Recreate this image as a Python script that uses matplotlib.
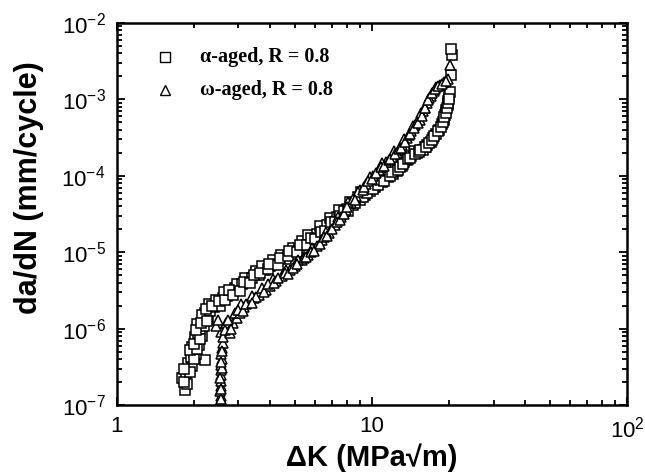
"""Fatigue crack growth rate vs stress intensity range, alpha- and omega-aged."""
import matplotlib as mpl
import matplotlib.pyplot as plt
from matplotlib.ticker import LogLocator, NullFormatter

mpl.rcParams.update({
    "font.family": "Liberation Sans", "mathtext.fontset": "custom",
    "mathtext.rm": "Liberation Sans", "mathtext.bf": "Liberation Sans:bold",
})

# alpha-aged, R = 0.8 (squares)
dk_alpha = [
    1.86, 1.88, 1.80, 1.87, 1.92, 1.90, 1.97, 2.22, 1.95, 2.00,
    2.05, 1.98, 2.03, 2.10, 2.02, 2.08, 2.15, 2.12, 2.06, 2.20,
    2.18, 2.21, 2.27, 2.16, 2.33, 2.40, 2.30, 2.48, 2.55, 2.44,
    2.60, 2.70, 2.63, 2.90, 2.82, 3.00, 2.95, 3.10, 3.25, 3.18,
    3.40, 3.53, 3.60, 3.50, 3.80, 3.72, 4.00, 4.20, 4.10, 4.47,
    4.60, 4.40, 4.80, 5.00, 4.90, 5.20, 5.45, 5.30, 5.70, 5.90,
    5.60, 6.10, 6.40, 6.25, 6.70, 7.00, 6.85, 7.30, 7.60, 7.45,
    8.00, 8.40, 8.20, 8.97, 9.40, 9.10, 9.80, 10.3, 10.0, 11.0,
    11.6, 11.3, 12.1, 12.5, 12.3, 13.1, 13.7, 13.4, 14.3, 15.0,
    14.6, 15.8, 16.5, 16.1, 17.0, 17.4, 17.9, 18.4, 18.8, 19.1,
    19.3, 19.6, 19.8, 19.9, 20.1, 20.2, 20.5, 20.6, 20.4,
    1.84, 1.93, 1.83, 2.00, 1.94, 2.07, 2.00, 2.12, 2.05, 2.14,
    2.25, 2.24, 2.36, 2.52, 2.66, 2.75, 2.86, 3.05, 3.15, 3.32,
    3.45, 3.65, 3.90, 3.95, 4.30, 4.35, 4.70, 4.75, 5.10, 5.25,
    5.55, 5.80, 6.00, 6.30, 6.55, 6.90, 7.15, 7.50, 7.80, 8.10,
    8.60, 8.80, 9.20, 9.60, 10.1, 10.6, 10.8, 11.2, 11.8, 12.0,
    12.7, 12.9, 13.3, 13.9, 14.1, 14.8, 15.3, 15.5, 16.3, 16.8,
    17.2, 17.6, 18.1, 18.6, 18.95, 19.2, 19.45, 19.7, 19.85, 20.0]
dadn_alpha = [
    1.6e-7, 1.9e-7, 2.3e-7, 2.6e-7, 3.0e-7, 3.6e-7, 3.3e-7, 3.9e-7, 4.3e-7, 5.0e-7,
    4.6e-7, 5.8e-7, 6.8e-7, 6.2e-7, 7.9e-7, 8.8e-7, 8.0e-7, 1.0e-6, 1.15e-6, 1.1e-6,
    1.3e-6, 1.6e-6, 1.4e-6, 1.5e-6, 1.7e-6, 1.9e-6, 2.1e-6, 2.1e-6, 2.0e-6, 2.4e-6,
    2.5e-6, 2.7e-6, 3.0e-6, 3.4e-6, 3.0e-6, 3.4e-6, 3.8e-6, 3.8e-6, 4.2e-6, 4.6e-6,
    4.6e-6, 5.5e-6, 5.0e-6, 5.6e-6, 5.8e-6, 6.6e-6, 6.6e-6, 7.2e-6, 8.0e-6, 8.7e-6,
    8.2e-6, 9.2e-6, 9.5e-6, 1.05e-5, 1.15e-5, 1.15e-5, 1.3e-5, 1.4e-5, 1.45e-5, 1.6e-5,
    1.7e-5, 1.75e-5, 2.0e-5, 2.2e-5, 2.3e-5, 2.6e-5, 2.8e-5, 2.9e-5, 3.2e-5, 3.6e-5,
    3.7e-5, 4.2e-5, 4.6e-5, 4.8e-5, 5.6e-5, 6.2e-5, 6.4e-5, 7.2e-5, 7.8e-5, 8.2e-5,
    9.5e-5, 1.0e-4, 1.05e-4, 1.15e-4, 1.25e-4, 1.35e-4, 1.6e-4, 1.5e-4, 1.8e-4, 2.0e-4,
    2.1e-4, 2.2e-4, 2.5e-4, 2.35e-4, 2.8e-4, 3.1e-4, 3.5e-4, 4.0e-4, 4.7e-4, 5.4e-4,
    6.2e-4, 7.2e-4, 8.5e-4, 9.6e-4, 1.1e-3, 1.26e-3, 2.1e-3, 3.8e-3, 4.6e-3,
    2.0e-7, 2.7e-7, 3.0e-7, 4.0e-7, 5.2e-7, 5.5e-7, 6.4e-7, 7.3e-7, 9.5e-7, 1.2e-6,
    1.25e-6, 1.8e-6, 2.0e-6, 2.3e-6, 2.4e-6, 3.2e-6, 2.8e-6, 3.1e-6, 4.1e-6, 3.9e-6,
    5.0e-6, 5.3e-6, 6.1e-6, 7.0e-6, 6.9e-6, 8.4e-6, 9.0e-6, 1.05e-5, 1.0e-5, 1.25e-5,
    1.25e-5, 1.55e-5, 1.5e-5, 1.85e-5, 1.9e-5, 2.45e-5, 2.5e-5, 3.0e-5, 3.5e-5, 3.5e-5,
    4.4e-5, 5.2e-5, 5.2e-5, 6.0e-5, 6.8e-5, 7.5e-5, 8.8e-5, 8.6e-5, 1.0e-4, 1.12e-4,
    1.2e-4, 1.3e-4, 1.42e-4, 1.65e-4, 1.72e-4, 1.9e-4, 2.05e-4, 2.15e-4, 2.4e-4, 2.65e-4,
    2.95e-4, 3.3e-4, 3.8e-4, 4.3e-4, 5.0e-4, 5.8e-4, 6.7e-4, 7.8e-4, 9.0e-4, 1.02e-3]

# omega-aged, R = 0.8 (triangles)
dk_omega = [
    2.55, 2.56, 2.55, 2.56, 2.57, 2.56, 2.57, 2.57, 2.58, 2.57,
    2.58, 2.60, 2.57, 2.62, 2.77, 2.72, 2.68, 2.85, 2.95, 2.90,
    3.03, 3.15, 3.08, 3.32, 3.45, 3.38, 3.60, 3.86, 3.70, 4.00,
    4.20, 4.10, 4.45, 4.77, 4.60, 5.00, 5.30, 5.15, 5.60, 6.07,
    5.85, 6.40, 6.80, 6.60, 7.20, 7.60, 7.40, 7.90, 8.30, 8.10,
    8.70, 9.00, 8.85, 9.50, 10.1, 9.80, 10.7, 11.4, 11.0, 12.0,
    12.5, 12.2, 13.1, 13.7, 13.4, 14.3, 14.8, 14.5, 15.4, 15.9,
    15.6, 16.4, 17.0, 16.7, 17.5, 17.9, 18.5, 19.2, 19.8, 20.2,
    2.46, 2.50,
    2.56, 2.57, 2.55, 2.58, 2.56, 2.59, 2.65, 2.74, 2.80, 2.98,
    3.12, 3.22, 3.52, 3.40, 3.78, 3.92, 4.15, 4.30, 4.55, 4.70,
    4.90, 5.10, 5.40, 5.50, 5.75, 5.95, 6.25, 6.50, 6.70, 7.00,
    7.30, 7.50, 7.75, 8.00, 8.40, 8.60, 9.20, 9.35, 9.65, 10.0,
    10.4, 10.9, 11.2, 11.7, 11.8, 12.3, 12.8, 13.0, 13.5, 14.0,
    14.1, 14.6, 15.1, 15.2, 15.7, 16.1, 16.2, 16.6, 17.2, 17.7,
    18.2, 18.8, 19.5]
dadn_omega = [
    1.1e-7, 1.3e-7, 1.55e-7, 1.8e-7, 2.1e-7, 2.5e-7, 2.9e-7, 3.4e-7, 4.0e-7, 4.7e-7,
    5.6e-7, 6.6e-7, 9.0e-7, 7.8e-7, 8.8e-7, 1.05e-6, 1.2e-6, 1.2e-6, 1.4e-6, 1.6e-6,
    1.6e-6, 1.9e-6, 2.1e-6, 2.3e-6, 2.5e-6, 2.7e-6, 2.8e-6, 3.2e-6, 3.4e-6, 3.6e-6,
    4.2e-6, 4.5e-6, 4.9e-6, 5.8e-6, 5.9e-6, 6.6e-6, 7.8e-6, 8.0e-6, 9.2e-6, 1.2e-5,
    1.15e-5, 1.45e-5, 1.8e-5, 1.85e-5, 2.3e-5, 2.9e-5, 2.9e-5, 3.6e-5, 4.4e-5, 4.6e-5,
    5.4e-5, 6.6e-5, 6.2e-5, 7.8e-5, 1.0e-4, 9.6e-5, 1.2e-4, 1.5e-4, 1.45e-4, 1.75e-4,
    2.0e-4, 2.1e-4, 2.5e-4, 3.1e-4, 3.0e-4, 3.8e-4, 4.6e-4, 4.5e-4, 5.4e-4, 7.0e-4,
    6.6e-4, 9.0e-4, 1.1e-3, 1.05e-3, 1.3e-3, 1.45e-3, 1.55e-3, 1.7e-3, 1.85e-3, 2.8e-3,
    1.1e-6, 1.3e-6,
    1.2e-7, 1.65e-7, 2.3e-7, 3.1e-7, 3.7e-7, 5.1e-7, 9.5e-7, 1.3e-6, 1.0e-6, 1.75e-6,
    1.7e-6, 2.1e-6, 2.6e-6, 2.2e-6, 3.0e-6, 3.8e-6, 3.9e-6, 4.6e-6, 5.3e-6, 5.2e-6,
    6.2e-6, 7.1e-6, 8.3e-6, 8.6e-6, 1.0e-5, 1.05e-5, 1.3e-5, 1.6e-5, 1.65e-5, 2.0e-5,
    2.5e-5, 2.6e-5, 3.2e-5, 3.9e-5, 4.9e-5, 4.8e-5, 6.6e-5, 7.2e-5, 8.6e-5, 9.0e-5,
    1.1e-4, 1.3e-4, 1.35e-4, 1.6e-4, 1.65e-4, 1.9e-4, 2.25e-4, 2.3e-4, 2.8e-4, 3.4e-4,
    3.5e-4, 4.2e-4, 5.0e-4, 4.9e-4, 6.0e-4, 7.8e-4, 7.6e-4, 9.8e-4, 1.2e-3, 1.35e-3,
    1.5e-3, 1.6e-3, 1.75e-3]

x_ticks = [1, 10, 100]
x_ticklabels = ["1", "10", r"$\mathregular{10^{2}}$"]
y_ticks = [1e-7, 1e-6, 1e-5, 1e-4, 1e-3, 1e-2]
y_ticklabels = [r"$\mathregular{10^{%d}}$" % p for p in range(-7, -1)]

series = [
    (dk_alpha, dadn_alpha, "s", 6.5, "α-aged, R = 0.8"),
    (dk_omega, dadn_omega, "^", 7.0, "ω-aged, R = 0.8"),
]

fig = plt.figure(figsize=(6.45, 4.75), dpi=100)
ax = fig.add_axes([0.181, 0.147, 0.791, 0.805])

for x, y, mk, ms, _ in series:
    ax.plot(x, y, ls="none", marker=mk, ms=ms, mfc="white", mec="black",
            mew=1.1)

ax.set_xscale("log")
ax.set_yscale("log")
ax.set_xlim(1, 100)
ax.set_ylim(1e-7, 1e-2)
ax.set_xticks(x_ticks, x_ticklabels)
ax.set_yticks(y_ticks, y_ticklabels)
for axis in (ax.xaxis, ax.yaxis):
    axis.set_minor_locator(LogLocator(base=10, subs=range(2, 10), numticks=20))
    axis.set_minor_formatter(NullFormatter())
ax.tick_params(which="both", direction="in", top=True, right=True,
               width=1.3, labelsize=16)
ax.tick_params(which="major", length=6, pad=8)
ax.tick_params(which="minor", length=3.5)
for sp in ax.spines.values():
    sp.set_linewidth(1.8)

ax.set_xlabel("ΔK (MPa√m)", fontsize=21, fontweight="bold", labelpad=1)
ax.set_ylabel("da/dN (mm/cycle)", fontsize=22, fontweight="bold")
ax.yaxis.set_label_coords(-0.142, 0.57)

# legend drawn as marker + serif text, as in the original
for i, (_, _, mk, ms, label) in enumerate(series):
    yy = 0.911 - i * 0.086
    ax.plot([0.094], [yy], transform=ax.transAxes, ls="none", marker=mk,
            ms=ms, mfc="white", mec="black", mew=1.0)
    ax.text(0.163, yy, label, transform=ax.transAxes, va="center",
            ha="left", fontsize=14.5, fontweight="bold",
            family="Liberation Serif")

fig.savefig("out.png", dpi=100)
